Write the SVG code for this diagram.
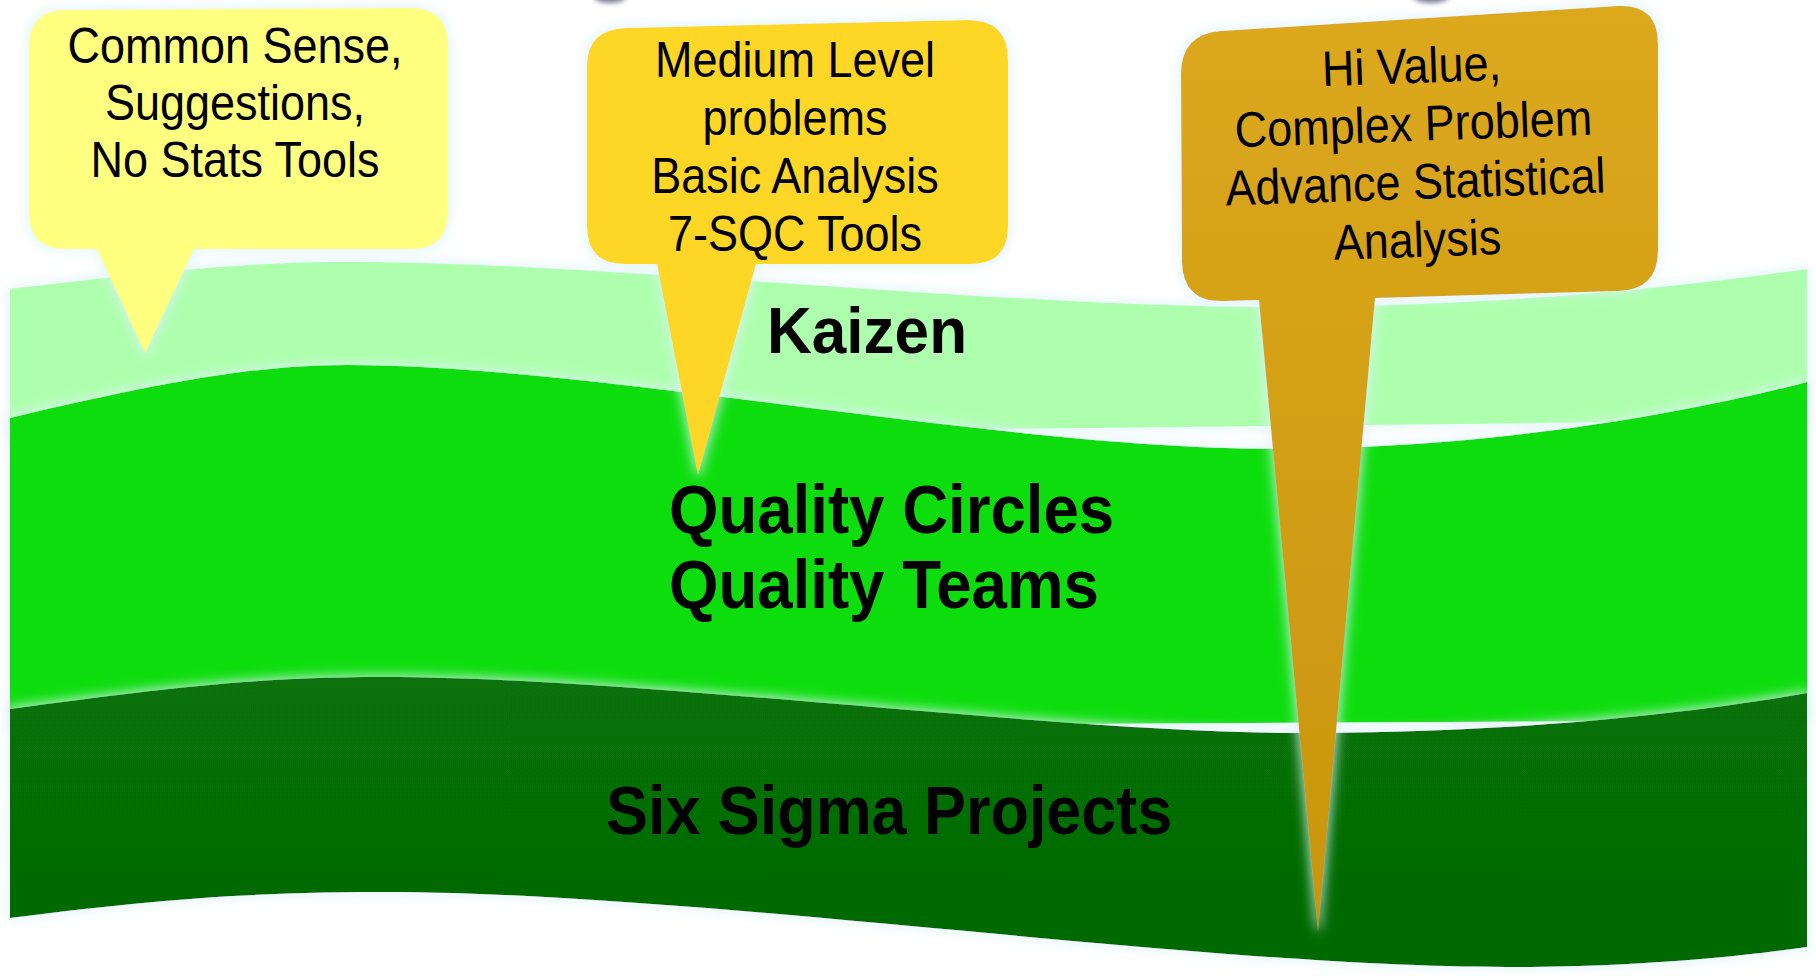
<svg xmlns="http://www.w3.org/2000/svg" width="1816" height="976" viewBox="0 0 1816 976">
  <defs>
    <!-- soft pale-cyan halo drawn under every shape -->
    <filter id="glow" x="-5%" y="-10%" width="110%" height="120%">
      <feMorphology in="SourceAlpha" operator="dilate" radius="2" result="grow"/>
      <feGaussianBlur in="grow" stdDeviation="6" result="soft"/>
      <feFlood flood-color="#dcf2f7" flood-opacity="0.8"/>
      <feComposite in2="soft" operator="in" result="halo"/>
      <feMerge>
        <feMergeNode in="halo"/>
        <feMergeNode in="SourceGraphic"/>
      </feMerge>
    </filter>
    <filter id="smudge" x="-50%" y="-50%" width="200%" height="200%">
      <feGaussianBlur stdDeviation="2.5"/>
    </filter>
    <linearGradient id="darkFill" x1="0" y1="0" x2="0" y2="1">
      <stop offset="0" stop-color="#077107"/>
      <stop offset="1" stop-color="#056905"/>
    </linearGradient>
    <linearGradient id="goldFill" x1="0" y1="0" x2="0" y2="1">
      <stop offset="0" stop-color="#dca81d"/>
      <stop offset="1" stop-color="#c9950e"/>
    </linearGradient>
  </defs>
  <style>
    .note { font-family: "Liberation Sans", Arial, sans-serif; font-size: 50px; fill: #000; text-anchor: middle; }
    .band-label { font-family: "Liberation Sans", Arial, sans-serif; font-weight: bold; font-size: 68px; fill: #000; }
  </style>

  <rect width="1816" height="976" fill="#ffffff"/>

  <!-- shapes peeking in from above the frame -->
  <ellipse cx="610" cy="-5" rx="17" ry="8" fill="#5a5b7c" opacity="0.8" filter="url(#smudge)"/>
  <ellipse cx="1431" cy="-5" rx="19" ry="8" fill="#5a5b7c" opacity="0.8" filter="url(#smudge)"/>

  <!-- top band: Kaizen -->
  <g id="band-kaizen">
    <path filter="url(#glow)" fill="#adffad"
      d="M 10 289 C 150 272, 250 262, 347 262 C 600 262, 1000 307, 1274 307 C 1500 307, 1700 285, 1807 269
         L 1807 420 L 10 440 Z"/>
    <text class="band-label" transform="translate(767 353) scale(0.97 1)" style="font-size:64px">Kaizen</text>
  </g>

  <!-- middle band: Quality Circles / Teams -->
  <g id="band-quality">
    <path filter="url(#glow)" fill="#0add0a"
      d="M 10 418 C 150 385, 250 365, 347 365 C 600 365, 1000 449, 1274 449 C 1500 449, 1700 410, 1807 382
         L 1807 720 L 10 730 Z"/>
    <text class="band-label" transform="translate(669 533) scale(0.935 1)">Quality Circles</text>
    <text class="band-label" transform="translate(669 608) scale(0.935 1)">Quality Teams</text>
  </g>

  <!-- bottom band: Six Sigma -->
  <g id="band-sixsigma">
    <path filter="url(#glow)" fill="url(#darkFill)"
      d="M 10 709 C 150 690, 250 677, 382 677 C 650 677, 1050 733, 1309 733 C 1520 733, 1700 712, 1807 693
         L 1807 947 C 1750 955, 1650 967, 1506 967 C 1200 967, 700 892, 382 892 C 250 892, 150 900, 10 918 Z"/>
    <text class="band-label" transform="translate(606 834) scale(0.925 1)">Six Sigma Projects</text>
  </g>

  <!-- callout: everyday improvements -->
  <g id="bubble-common-sense">
    <path filter="url(#glow)" fill="#ffff80"
      d="M 66 10 L 410 8 Q 448 8 448 46 L 448 212 Q 448 249 411 249 L 194 249 L 145 353 L 97 249
         L 66 249 Q 29 249 29 212 L 29 47 Q 29 10 66 10 Z"/>
    <g transform="translate(235 0) scale(0.9 1)">
      <text class="note" x="0" y="63">Common Sense,</text>
      <text class="note" x="0" y="120">Suggestions,</text>
      <text class="note" x="0" y="177">No Stats Tools</text>
    </g>
  </g>

  <!-- callout: medium level problems -->
  <g id="bubble-medium">
    <path filter="url(#glow)" fill="#fed726"
      d="M 627 28 L 968 20 Q 1008 20 1008 60 L 1008 226 Q 1008 264 970 264 L 756 264 L 698 475 L 657 264
         L 625 264 Q 587 264 587 226 L 587 66 Q 587 29 627 28 Z"/>
    <g transform="translate(795 0) scale(0.9 1)">
      <text class="note" x="0" y="77">Medium Level</text>
      <text class="note" x="0" y="135">problems</text>
      <text class="note" x="0" y="193">Basic Analysis</text>
      <text class="note" x="0" y="251">7-SQC Tools</text>
    </g>
  </g>

  <!-- callout: high value, complex problems -->
  <g id="bubble-complex">
    <path filter="url(#glow)" fill="url(#goldFill)"
      d="M 1221 31 L 1618 6 Q 1658 4 1658 44 L 1658 250 Q 1658 290 1618 291 L 1375 298 L 1318 932 L 1259 300
         L 1223 301 Q 1183 302 1182 262 L 1181 74 Q 1181 34 1221 31 Z"/>
    <g transform="rotate(-2 1415 170) translate(1415 0) scale(0.9 1)">
      <text class="note" x="0" y="83">Hi Value,</text>
      <text class="note" x="0" y="141">Complex Problem</text>
      <text class="note" x="0" y="199">Advance Statistical</text>
      <text class="note" x="0" y="257">Analysis</text>
    </g>
  </g>
</svg>
